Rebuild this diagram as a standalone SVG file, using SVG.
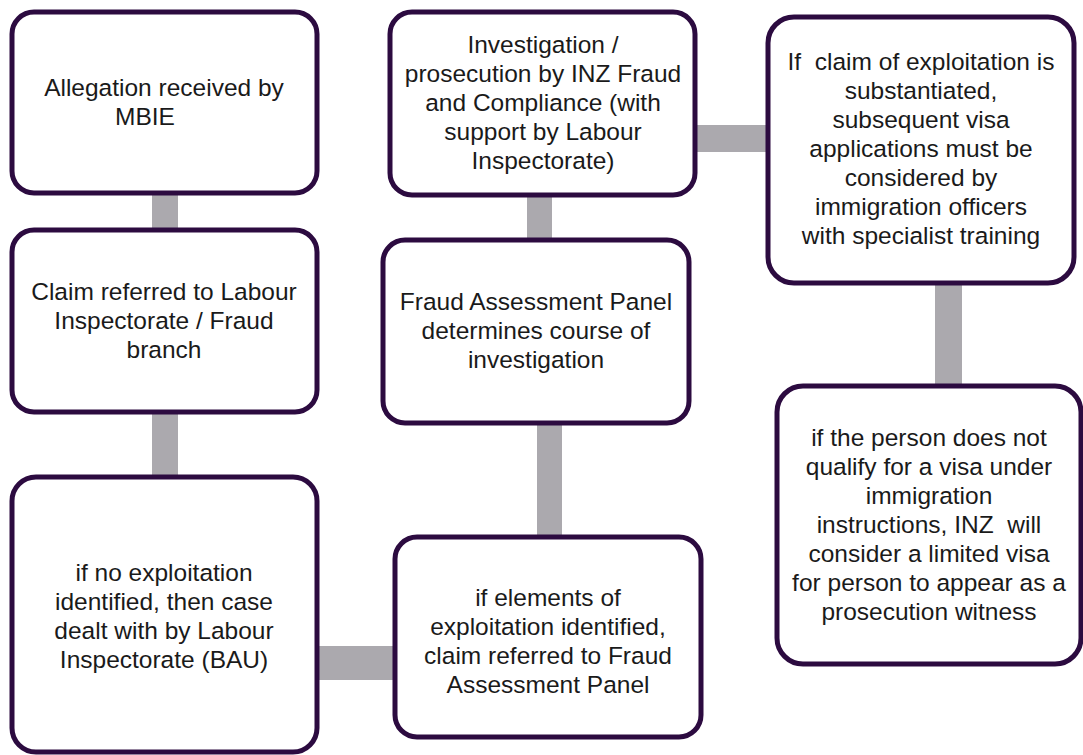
<svg xmlns="http://www.w3.org/2000/svg" width="1083" height="755" viewBox="0 0 1083 755">
<style>
.box{fill:#ffffff;stroke:#2c0b40;stroke-width:5}
.bar{fill:#aba9ae}
.t{font-family:"Liberation Sans",Arial,sans-serif;font-size:24.5px;fill:#1a1a1a;text-anchor:middle}
</style>
<rect x="0" y="0" width="1083" height="755" fill="#ffffff"/>
<g id="connectors">
<rect class="bar" x="152" y="190" width="26" height="44"/>
<rect class="bar" x="152" y="410" width="26" height="70"/>
<rect class="bar" x="316" y="646" width="82" height="34"/>
<rect class="bar" x="537" y="420" width="25" height="120"/>
<rect class="bar" x="527" y="192" width="25" height="51"/>
<rect class="bar" x="694" y="125" width="77" height="27"/>
<rect class="bar" x="935" y="280" width="27" height="109"/>
</g>
<g id="n1">
<rect class="box" x="12" y="12" width="305" height="181" rx="22"/>
<text class="t"><tspan x="164" y="96">Allegation received by</tspan><tspan x="145" y="125">MBIE</tspan></text>
</g>
<g id="n2">
<rect class="box" x="12" y="230" width="305" height="182" rx="22"/>
<text class="t"><tspan x="164" y="300">Claim referred to Labour</tspan><tspan x="164" y="329">Inspectorate / Fraud</tspan><tspan x="164" y="358">branch</tspan></text>
</g>
<g id="n3">
<rect class="box" x="12" y="477" width="305" height="275" rx="24"/>
<text class="t"><tspan x="164" y="581">if no exploitation</tspan><tspan x="164" y="610">identified, then case</tspan><tspan x="164" y="639">dealt with by Labour</tspan><tspan x="164" y="668">Inspectorate (BAU)</tspan></text>
</g>
<g id="n4">
<rect class="box" x="395" y="537" width="306" height="200" rx="22"/>
<text class="t"><tspan x="548" y="606">if elements of</tspan><tspan x="548" y="635">exploitation identified,</tspan><tspan x="548" y="664">claim referred to Fraud</tspan><tspan x="548" y="693">Assessment Panel</tspan></text>
</g>
<g id="n5">
<rect class="box" x="383" y="240" width="306" height="183" rx="22"/>
<text class="t"><tspan x="536" y="310">Fraud Assessment Panel</tspan><tspan x="536" y="339">determines course of</tspan><tspan x="536" y="368">investigation</tspan></text>
</g>
<g id="n6">
<rect class="box" x="390" y="12" width="305" height="183" rx="22"/>
<text class="t"><tspan x="543" y="53">Investigation /</tspan><tspan x="543" y="82">prosecution by INZ Fraud</tspan><tspan x="543" y="111">and Compliance (with</tspan><tspan x="543" y="140">support by Labour</tspan><tspan x="543" y="169">Inspectorate)</tspan></text>
</g>
<g id="n7">
<rect class="box" x="768" y="17" width="306" height="266" rx="26"/>
<text class="t"><tspan x="921" y="70">If&#160; claim of exploitation is</tspan><tspan x="921" y="99">substantiated,</tspan><tspan x="921" y="128">subsequent visa</tspan><tspan x="921" y="157">applications must be</tspan><tspan x="921" y="186">considered by</tspan><tspan x="921" y="215">immigration officers</tspan><tspan x="921" y="244">with specialist training</tspan></text>
</g>
<g id="n8">
<rect class="box" x="777" y="386" width="304" height="278" rx="26"/>
<text class="t"><tspan x="929" y="446">if the person does not</tspan><tspan x="929" y="475">qualify for a visa under</tspan><tspan x="929" y="504">immigration</tspan><tspan x="929" y="533">instructions, INZ&#160; will</tspan><tspan x="929" y="562">consider a limited visa</tspan><tspan x="929" y="591">for person to appear as a</tspan><tspan x="929" y="620">prosecution witness</tspan></text>
</g>
</svg>
